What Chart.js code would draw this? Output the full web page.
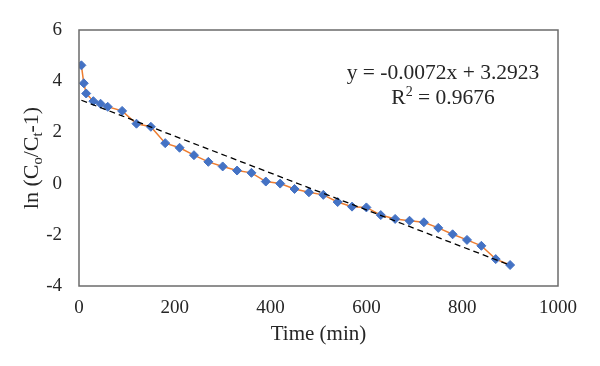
<!DOCTYPE html>
<html>
<head>
<meta charset="utf-8">
<script src="https://cdn.jsdelivr.net/npm/chart.js@4/dist/chart.umd.min.js"></script>
<style>
  html, body { margin: 0; padding: 0; background: #fff; }
  #wrap { width: 600px; height: 366px; }
</style>
</head>
<body>
<div id="wrap"><canvas id="kinChart" width="600" height="366"></canvas></div>
<script>
// ===== DATA =====
const timeMin = [5, 10, 15, 30, 45, 60, 90, 120, 150, 180, 210, 240, 270, 300, 330, 360,
  390, 420, 450, 480, 510, 540, 570, 600, 630, 660, 690, 720, 750, 780, 810, 840, 870, 900];
const lnValues = [4.62, 3.92, 3.52, 3.22, 3.12, 3.00, 2.84, 2.34, 2.22, 1.58, 1.40, 1.11, 0.85, 0.67, 0.51, 0.42,
  0.08, 0.00, -0.21, -0.34, -0.44, -0.72, -0.90, -0.93, -1.23, -1.38, -1.45, -1.51, -1.73, -1.98, -2.20, -2.43, -2.95, -3.18];
const xTicks = [0, 200, 400, 600, 800, 1000];
const yTicks = [-4, -2, 0, 2, 4, 6];

// linear trendline as printed on the chart
const trendSlope = -0.0072;
const trendIntercept = 3.2923;
const eqText = 'y = -0.0072x + 3.2923';
const r2Value = '0.9676';

const FONT = "'Liberation Serif', 'Times New Roman', serif";

const points = timeMin.map((t, i) => ({ x: t, y: lnValues[i] }));
const tStart = timeMin[0];
const tEnd = timeMin[timeMin.length - 1];
const trendPoints = [
  { x: tStart, y: trendSlope * tStart + trendIntercept },
  { x: tEnd, y: trendSlope * tEnd + trendIntercept }
];

// draws runs of text, some of them raised or lowered, centred on cx
function drawRuns(ctx, parts, cx, cy) {
  let total = 0;
  parts.forEach(p => { ctx.font = p.font; p.w = ctx.measureText(p.t).width; total += p.w; });
  let x = cx - total / 2;
  ctx.textAlign = 'left';
  ctx.textBaseline = 'alphabetic';
  parts.forEach(p => {
    ctx.font = p.font;
    ctx.fillText(p.t, x, cy + p.dy);
    x += p.w;
  });
}

// frame + y title (with subscripts) + equation
const extras = {
  id: 'extras',
  afterDraw(chart) {
    const ctx = chart.ctx;
    const a = chart.chartArea;
    ctx.save();
    ctx.strokeStyle = '#6b6b6b';
    ctx.lineWidth = 1.5;
    ctx.strokeRect(a.left, a.top, a.right - a.left, a.bottom - a.top);

    // equation
    ctx.fillStyle = '#262626';
    const eqFont = '21.5px ' + FONT, supFont = '14px ' + FONT;
    drawRuns(ctx, [{ t: eqText, font: eqFont, dy: 0 }], 443, 79);
    drawRuns(ctx, [
      { t: 'R', font: eqFont, dy: 0 },
      { t: '2', font: supFont, dy: -8 },
      { t: ' = ' + r2Value, font: eqFont, dy: 0 }
    ], 443, 104);

    // y axis title, rotated, with subscripts
    const big = '22px ' + FONT, small = '14.5px ' + FONT;
    ctx.translate(31, (a.top + a.bottom) / 2);
    ctx.rotate(-Math.PI / 2);
    drawRuns(ctx, [
      { t: 'ln (C', font: big, dy: 7 },
      { t: 'o', font: small, dy: 11 },
      { t: '/C', font: big, dy: 7 },
      { t: 't', font: small, dy: 11 },
      { t: '-1)', font: big, dy: 7 }
    ], 0, 0);
    ctx.restore();
  }
};

new Chart(document.getElementById('kinChart'), {
  type: 'scatter',
  data: {
    datasets: [
      {
        label: 'Trend',
        data: trendPoints,
        showLine: true,
        borderColor: '#000',
        borderWidth: 1.3,
        borderDash: [6, 4],
        pointRadius: 0,
        fill: false,
        order: 0
      },
      {
        label: 'ln(Co/Ct-1)',
        data: points,
        showLine: true,
        borderColor: '#ED7D31',
        borderWidth: 1.5,
        pointStyle: 'rectRot',
        pointRadius: 4.5,
        pointBackgroundColor: '#4472C4',
        pointBorderColor: '#4472C4',
        pointBorderWidth: 1,
        fill: false,
        order: 1
      }
    ]
  },
  options: {
    responsive: false,
    animation: false,
    layout: { padding: { top: 30, right: 42, left: 0, bottom: 0 } },
    plugins: {
      legend: { display: false },
      tooltip: { enabled: false }
    },
    scales: {
      x: {
        type: 'linear',
        min: 0,
        max: 1000,
        afterBuildTicks: s => { s.ticks = xTicks.map(v => ({ value: v })); },
        afterFit: s => { s.height = 80; },
        grid: { display: false },
        border: { display: false },
        ticks: {
          color: '#262626',
          padding: 3,
          font: { family: FONT, size: 19 },
          callback: v => String(v)
        },
        title: {
          display: true,
          text: 'Time (min)',
          color: '#262626',
          padding: { top: 0, bottom: 19 },
          font: { family: FONT, size: 21 }
        }
      },
      y: {
        type: 'linear',
        min: -4,
        max: 6,
        afterBuildTicks: s => { s.ticks = yTicks.map(v => ({ value: v })); },
        afterFit: s => { s.width = 79; },
        grid: { display: false },
        border: { display: false },
        ticks: { color: '#262626', padding: 9, font: { family: FONT, size: 19 } }
      }
    }
  },
  plugins: [extras]
});
</script>
</body>
</html>
